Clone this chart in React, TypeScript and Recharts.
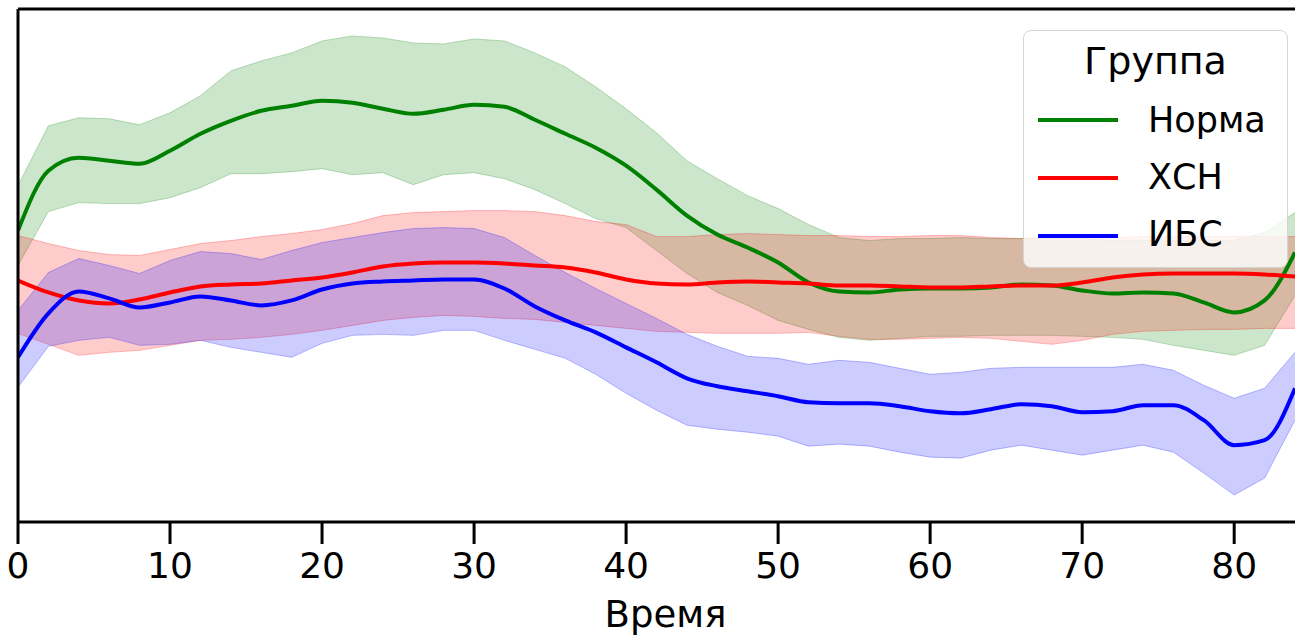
import React from 'react';
import { ComposedChart, Area, Line, XAxis, YAxis, Legend, Label, ReferenceLine } from 'recharts';

const times = [0, 2, 4, 6, 8, 10, 12, 14, 16, 18, 20, 22, 24, 26, 28, 30, 32, 34, 36, 38, 40, 42, 44, 46, 48, 50, 52, 54, 56, 58, 60, 62, 64, 66, 68, 70, 72, 74, 76, 78, 80, 82, 84];
const xTicks = [0, 10, 20, 30, 40, 50, 60, 70, 80];

// Норма
const normaMean = [292, 352, 365, 362, 359, 372, 389, 402, 412, 417, 422, 420, 414, 409, 413, 418, 416, 403, 389, 375, 357, 333, 307, 288, 275, 260, 240, 231, 230, 233, 234, 234, 235, 238, 237, 232, 229, 230, 229, 220, 210, 222, 270];
const normaHigh = [337, 397, 405, 404, 398, 410, 427, 452, 462, 470, 482, 487, 485, 480, 479, 484, 482, 470, 456, 436, 414, 390, 362, 344, 327, 314, 298, 285, 282, 284, 284, 285, 284, 284, 285, 284, 282, 282, 282, 282, 282, 290, 310];
const normaLow = [257, 311, 320, 319, 319, 325, 335, 349, 349, 351, 354, 348, 350, 338, 348, 350, 344, 333, 319, 304, 295, 272, 249, 230, 217, 202, 193, 185, 182, 184, 186, 186, 187, 187, 187, 186, 185, 183, 177, 172, 167, 177, 227];

// ХСН
const hsnMean = [242, 230, 222, 219, 223, 230, 236, 238, 239, 242, 245, 250, 256, 259, 260, 260, 259, 257, 255, 250, 243, 239, 238, 240, 241, 240, 239, 237, 237, 236, 235, 235, 236, 237, 237, 240, 245, 248, 249, 249, 249, 248, 246];
const hsnHigh = [287, 279, 272, 268, 267, 273, 279, 282, 286, 289, 293, 299, 307, 310, 311, 312, 312, 311, 307, 301, 298, 286, 286, 288, 289, 288, 287, 287, 286, 286, 287, 287, 285, 284, 285, 285, 285, 286, 286, 286, 286, 286, 286];
const hsnLow = [189, 178, 167, 170, 172, 177, 182, 183, 185, 188, 192, 197, 202, 205, 207, 206, 204, 203, 200, 197, 194, 191, 190, 189, 189, 189, 190, 186, 183, 183, 184, 185, 184, 181, 178, 182, 188, 191, 192, 193, 193, 194, 194];

// ИБС
const ibsMean = [165, 209, 231, 224, 215, 220, 226, 222, 217, 222, 233, 239, 241, 242, 243, 243, 234, 216, 202, 190, 175, 160, 144, 136, 131, 126, 120, 119, 119, 116, 111, 109, 113, 118, 116, 110, 111, 117, 117, 102, 77, 82, 134];
const ibsHigh = [212, 250, 264, 257, 249, 262, 271, 269, 263, 272, 280, 285, 290, 294, 295, 294, 285, 267, 250, 234, 219, 204, 188, 176, 166, 164, 158, 162, 160, 154, 148, 150, 154, 155, 155, 155, 155, 158, 152, 137, 124, 134, 170];
const ibsLow = [135, 176, 182, 185, 177, 178, 182, 175, 170, 165, 179, 187, 188, 187, 192, 192, 182, 173, 164, 148, 129, 112, 97, 93, 90, 86, 76, 78, 76, 70, 65, 64, 72, 77, 72, 67, 72, 77, 70, 49, 27, 44, 102];

const groups = [
  { key: 'norma', name: 'Норма', color: '#008000', mean: normaMean, low: normaLow, high: normaHigh },
  { key: 'hsn', name: 'ХСН', color: '#ff0000', mean: hsnMean, low: hsnLow, high: hsnHigh },
  { key: 'ibs', name: 'ИБС', color: '#0000ff', mean: ibsMean, low: ibsLow, high: ibsHigh },
];

const chartData = times.map((t, i) => {
  const row: Record<string, any> = { t };
  groups.forEach((g) => {
    row[g.key] = g.mean[i];
    row[g.key + 'Band'] = [g.low[i], g.high[i]];
  });
  return row;
});

const font = '"DejaVu Sans", sans-serif';
const Y_MAX = 514;

const GroupLegend = () => (
  <div
    style={{
      position: 'relative',
      width: 265,
      height: 238,
      boxSizing: 'border-box',
      border: '1.5px solid #d4d4d4',
      borderRadius: 8,
      background: 'rgba(255,255,255,0.8)',
      fontFamily: font,
      color: '#000',
    }}
  >
    <div style={{ position: 'absolute', left: 0, right: 0, top: 11, textAlign: 'center', fontSize: 38, lineHeight: '38px' }}>
      Группа
    </div>
    {groups.map((g, i) => (
      <React.Fragment key={g.key}>
        <div style={{ position: 'absolute', left: 14, top: 87 + i * 58, width: 80, height: 4, background: g.color }} />
        <div style={{ position: 'absolute', left: 124, top: 72 + i * 57, fontSize: 35, lineHeight: '35px', whiteSpace: 'nowrap' }}>
          {g.name}
        </div>
      </React.Fragment>
    ))}
  </div>
);

export default function App() {
  return (
    <div style={{ position: 'absolute', left: 0, top: 0, width: 1299, height: 640, background: '#fff' }}>
      <ComposedChart width={1299} height={640} data={chartData} margin={{ top: 9, right: 4, left: 18, bottom: 0 }}>
        <XAxis
          dataKey="t"
          type="number"
          domain={[0, 84]}
          ticks={xTicks}
          height={118}
          tickSize={22}
          tickMargin={8}
          tick={{ fontSize: 36, fill: '#000', fontFamily: font }}
          tickLine={{ stroke: '#000', strokeWidth: 3 }}
          axisLine={{ stroke: '#000', strokeWidth: 3 }}
          allowDataOverflow
        >
          <Label value="Время" position="insideBottom" offset={13} dx={9} style={{ fontSize: 37, fill: '#000', fontFamily: font }} />
        </XAxis>
        <YAxis type="number" domain={[0, Y_MAX]} width={0} hide allowDataOverflow />
        {groups.map((g) => (
          <Area
            key={g.key + 'Band'}
            dataKey={g.key + 'Band'}
            type="linear"
            stroke={g.color}
            strokeOpacity={0.25}
            strokeWidth={1}
            fill={g.color}
            fillOpacity={0.2}
            dot={false}
            activeDot={false}
            legendType="none"
            isAnimationActive={false}
          />
        ))}
        {groups.map((g) => (
          <Line
            key={g.key}
            dataKey={g.key}
            name={g.name}
            type="monotone"
            stroke={g.color}
            strokeWidth={4}
            dot={false}
            activeDot={false}
            isAnimationActive={false}
          />
        ))}
        <ReferenceLine x={0} stroke="#000" strokeWidth={3} ifOverflow="visible" />
        <ReferenceLine y={Y_MAX} stroke="#000" strokeWidth={3} ifOverflow="visible" />
        <Legend
          layout="vertical"
          align="center"
          verticalAlign="middle"
          content={() => <GroupLegend />}
          wrapperStyle={{ left: 1023, top: 30, width: 265, height: 238 }}
        />
      </ComposedChart>
    </div>
  );
}
